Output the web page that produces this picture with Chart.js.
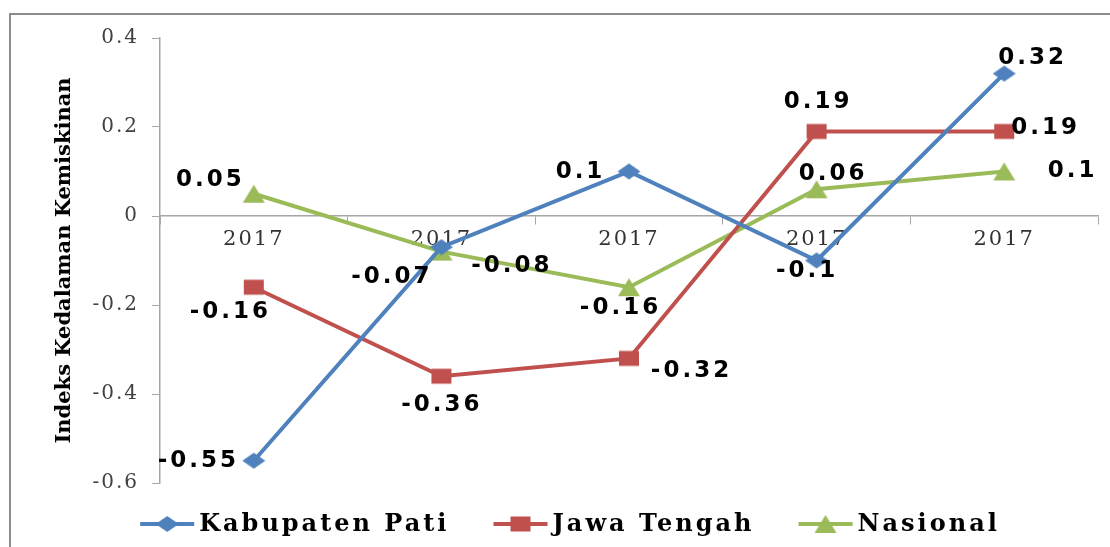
<!DOCTYPE html>
<html>
<head>
<meta charset="utf-8">
<script src="https://cdn.jsdelivr.net/npm/chart.js@4"></script>
<style>
  body { margin: 0; background: #fff; }
  #wrap { position: relative; width: 1110px; height: 547px; overflow: hidden; }
  #frame { position: absolute; left: 9px; top: 13px; width: 1200px; height: 600px;
    border-top: 2px solid #8c8c8c; border-left: 2px solid #8c8c8c; }
  canvas { position: absolute; left: 0; top: 0; }
</style>
</head>
<body>
<div id="wrap"><div id="frame"></div><canvas id="chart" width="1110" height="547"></canvas></div>
<script>
// data
const years = ["2017", "2017", "2017", "2017", "2017"];
const kabupatenPati = [-0.55, -0.07, 0.1, -0.1, 0.32];
const jawaTengah = [-0.16, -0.36, -0.32, 0.19, 0.19];
const nasional = [0.05, -0.08, -0.16, 0.06, 0.1];
const seriesNames = ["Kabupaten Pati", "Jawa Tengah", "Nasional"];
const yTicks = [-0.6, -0.4, -0.2, 0, 0.2, 0.4];
const yTitle = "Indeks Kedalaman Kemiskinan";

// styles
const colors = ["#4F81BD", "#C0504D", "#9BBB59"];
const markerShapes = ["diamond", "square", "triangle"];
// where each value label sits, relative to its point
const labelOffsets = [
  [[-57, 0], [-51, 30], [-50, 1], [-11, 11], [27, -16]],
  [[-25, 25], [-1, 29], [61, 13], [0, -29], [40, -3]],
  [[-45, -14], [69, 14], [-10, 21], [15, -15], [67, 0]],
];

// small canvases used as point markers (the Excel ones are a bit wider than tall)
function makeMarker(shape, color) {
  const c = document.createElement("canvas");
  c.width = 24;
  c.height = 20;
  const g = c.getContext("2d");
  g.fillStyle = color;
  g.beginPath();
  if (shape === "diamond") {
    g.moveTo(12, 2); g.lineTo(23.5, 10); g.lineTo(12, 18); g.lineTo(0.5, 10);
  } else if (shape === "square") {
    g.rect(2, 2.5, 20, 15);
  } else {
    g.moveTo(12, 1); g.lineTo(23, 19); g.lineTo(1, 19);
  }
  g.closePath();
  g.fill();
  return c;
}
const markerImgs = markerShapes.map((s, i) => makeMarker(s, colors[i]));

const pointLabels = {
  id: "pointLabels",
  afterDatasetsDraw(chart) {
    const ctx = chart.ctx;
    ctx.save();
    ctx.font = 'bold 23px "DejaVu Sans"';
    ctx.letterSpacing = "3px";
    ctx.fillStyle = "#000";
    ctx.textAlign = "center";
    ctx.textBaseline = "middle";
    chart.data.datasets.forEach((ds, i) => {
      chart.getDatasetMeta(i).data.forEach((pt, j) => {
        const [dx, dy] = labelOffsets[i][j];
        ctx.fillText(String(ds.data[j]), pt.x + dx + 1.5, pt.y + dy);
      });
    });
    ctx.restore();
  },
};

// wider tick lettering + rotated axis title + bottom legend
const decorations = {
  id: "decorations",
  beforeDraw(chart) {
    chart.ctx.letterSpacing = "2px";
  },
  afterDraw(chart) {
    const ctx = chart.ctx;
    ctx.letterSpacing = "0px";
    const area = chart.chartArea;

    ctx.save();
    ctx.translate(65, (area.top + area.bottom) / 2);
    ctx.rotate(-Math.PI / 2);
    ctx.font = 'bold 21px "DejaVu Serif"';
    ctx.fillStyle = "#000";
    ctx.textAlign = "center";
    ctx.textBaseline = "middle";
    ctx.fillText(yTitle, 0, 0);
    ctx.restore();

    ctx.save();
    ctx.font = 'bold 24px "DejaVu Serif"';
    ctx.letterSpacing = "3px";
    ctx.textBaseline = "middle";
    const iconW = 54, gapIcon = 5, gapItem = 44;
    const widths = seriesNames.map((n) => ctx.measureText(n).width);
    const total = widths.reduce((a, w) => a + iconW + gapIcon + w, 0) + gapItem * (seriesNames.length - 1);
    let x = 570 - total / 2;
    const y = 524;
    seriesNames.forEach((name, i) => {
      ctx.strokeStyle = colors[i];
      ctx.lineWidth = 4;
      ctx.beginPath();
      ctx.moveTo(x, y); ctx.lineTo(x + iconW, y);
      ctx.stroke();
      const m = markerImgs[i];
      ctx.drawImage(m, x + iconW / 2 - m.width / 2, y - m.height / 2);
      x += iconW + gapIcon;
      ctx.fillStyle = "#000";
      ctx.fillText(name, x, y + 1);
      x += widths[i] + gapItem;
    });
    ctx.restore();
  },
};

const makeSet = (label, data, i) => ({
  label: label,
  data: data,
  borderColor: colors[i],
  backgroundColor: colors[i],
  borderWidth: 4,
  pointStyle: markerImgs[i],
  pointRadius: 10,
  pointHoverRadius: 10,
  pointBorderWidth: 0,
  tension: 0,
});

new Chart(document.getElementById("chart"), {
  type: "line",
  data: {
    labels: years,
    datasets: [
      makeSet(seriesNames[0], kabupatenPati, 0),
      makeSet(seriesNames[1], jawaTengah, 1),
      makeSet(seriesNames[2], nasional, 2),
    ],
  },
  options: {
    responsive: false,
    animation: false,
    layout: { padding: { left: 40, right: 12, top: 38, bottom: 64 } },
    plugins: { legend: { display: false }, tooltip: { enabled: false } },
    scales: {
      x: {
        type: "category",
        position: { y: 0 },
        offset: true,
        grid: { drawOnChartArea: false, tickLength: 8, color: "#a6a6a6", offset: true },
        border: { color: "#a6a6a6", width: 1.5 },
        ticks: { font: { family: "DejaVu Serif", size: 21 }, color: "#333", padding: 3, maxRotation: 0, autoSkip: false },
      },
      y: {
        min: -0.6,
        max: 0.4,
        afterFit: (s) => { s.width = 120; },
        afterBuildTicks: (s) => { s.ticks = yTicks.map((v) => ({ value: v })); },
        grid: { drawOnChartArea: false, tickLength: 8, color: "#a6a6a6" },
        border: { color: "#a6a6a6", width: 1.5 },
        ticks: {
          font: { family: "DejaVu Serif", size: 20 },
          color: "#404040",
          padding: 13,
          callback: (v) => String(Math.round(v * 10) / 10),
        },
      },
    },
  },
  plugins: [pointLabels, decorations],
});
</script>
</body>
</html>
